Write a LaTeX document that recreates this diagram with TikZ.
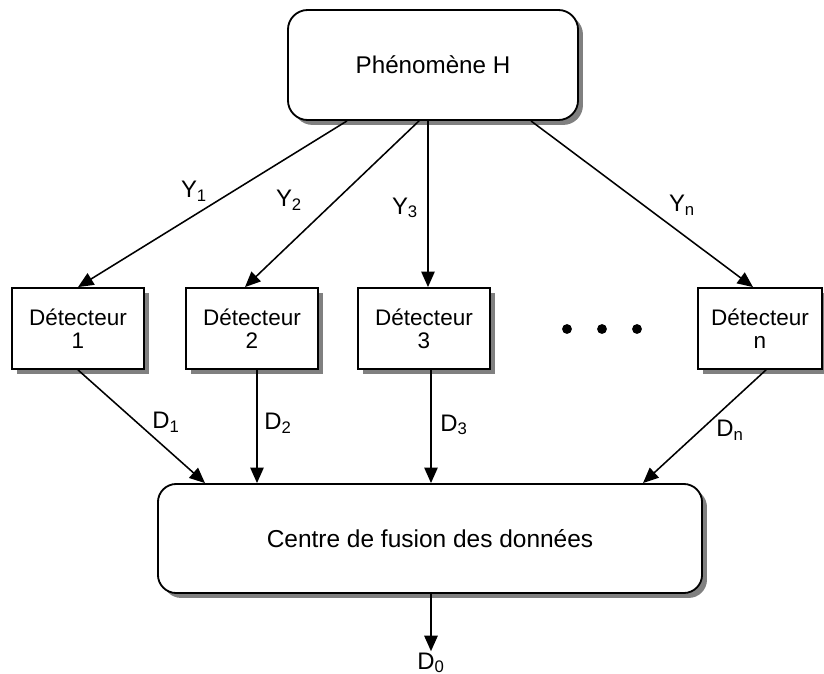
\documentclass[tikz,border=0pt]{standalone}
\usepackage{fontspec}
\setmainfont{Liberation Sans}
\usetikzlibrary{positioning, arrows.meta, calc, shadows}
\tikzset{
    box/.style={
        rectangle,
        draw=black,
        fill=white,
        line width=1.3pt,
        align=center,
        inner sep=0pt,
        font=\fontsize{16}{16.5}\selectfont,
        drop shadow={shadow xshift=3.5pt, shadow yshift=-3.5pt, fill=black!50, opacity=1}
    },
    phenbox/.style={
        box,
        rounded corners=14pt,
        minimum width=7.25cm,
        minimum height=2.75cm,
        font=\fontsize{17.2}{18}\selectfont
    },
    detbox/.style={
        box,
        minimum width=3.3cm,
        minimum height=2.025cm
    },
    fusionbox/.style={
        box,
        rounded corners=13pt,
        minimum width=13.6cm,
        minimum height=2.725cm,
        font=\fontsize{17.4}{18}\selectfont
    },
    flow/.style={
        line width=1.1pt,
        -{Triangle[length=11pt,width=9.5pt]}
    },
    lbl/.style={
        font=\fontsize{17}{18}\selectfont,
        inner sep=1pt
    }
}

\begin{document}
\begin{tikzpicture}[x=0.025cm,y=-0.025cm]

\useasboundingbox (0,0) rectangle (824,673);

%---------------- Phenomenon ----------------

\node[phenbox] (phen) at (433,65) {Phénomène H};

%---------------- Detectors ----------------

\node[detbox] (det1) at (78,328.5) {Détecteur\\1};
\node[detbox] (det2) at (252,328.5) {Détecteur\\2};
\node[detbox] (det3) at (424,328.5) {Détecteur\\3};
\node[detbox, minimum width=3.1cm] (detn) at (760,328.5) {Détecteur\\n};

\foreach \x in {567,602,637}
    \fill (\x,329) circle (3.5pt);

%---------------- Fusion centre ----------------

\node[fusionbox] (fusion) at (430,538.5) {Centre de fusion des données};
\node[lbl] (dzero) at (431,663) {D\textsubscript{0}};

%---------------- Observations ----------------

\draw[flow] ($(phen.south)+(-86,0)$) -- (det1.north);
\draw[flow] ($(phen.south)+(-14,0)$) -- ($(det2.north)+(-7,0)$);
\draw[flow] ($(phen.south)+(-5,0)$) -- ($(det3.north)+(4,0)$);
\draw[flow] ($(phen.south)+(98,0)$) -- ($(detn.north)+(-7,0)$);

\node[lbl] (y1) at (194,191) {Y\textsubscript{1}};
\node[lbl] (y2) at (289,200) {Y\textsubscript{2}};
\node[lbl] (y3) at (405,208) {Y\textsubscript{3}};
\node[lbl] (yn) at (682,205) {Y\textsubscript{n}};

%---------------- Decisions ----------------

\draw[flow] (det1.south) -- ($(fusion.north)+(-225,0)$);
\draw[flow] ($(det2.south)+(5,0)$) -- ($(fusion.north)+(-173,0)$);
\draw[flow] ($(det3.south)+(7,0)$) -- ($(fusion.north)+(1,0)$);
\draw[flow] ($(detn.south)+(6,0)$) -- ($(fusion.north)+(213,0)$);
\draw[flow] ($(fusion.south)+(1,0)$) -- (dzero.north);

\node[lbl] (d1) at (166,422) {D\textsubscript{1}};
\node[lbl] (d2) at (278,423) {D\textsubscript{2}};
\node[lbl] (d3) at (454,425) {D\textsubscript{3}};
\node[lbl] (dn) at (730,430) {D\textsubscript{n}};

\end{tikzpicture}
\end{document}
